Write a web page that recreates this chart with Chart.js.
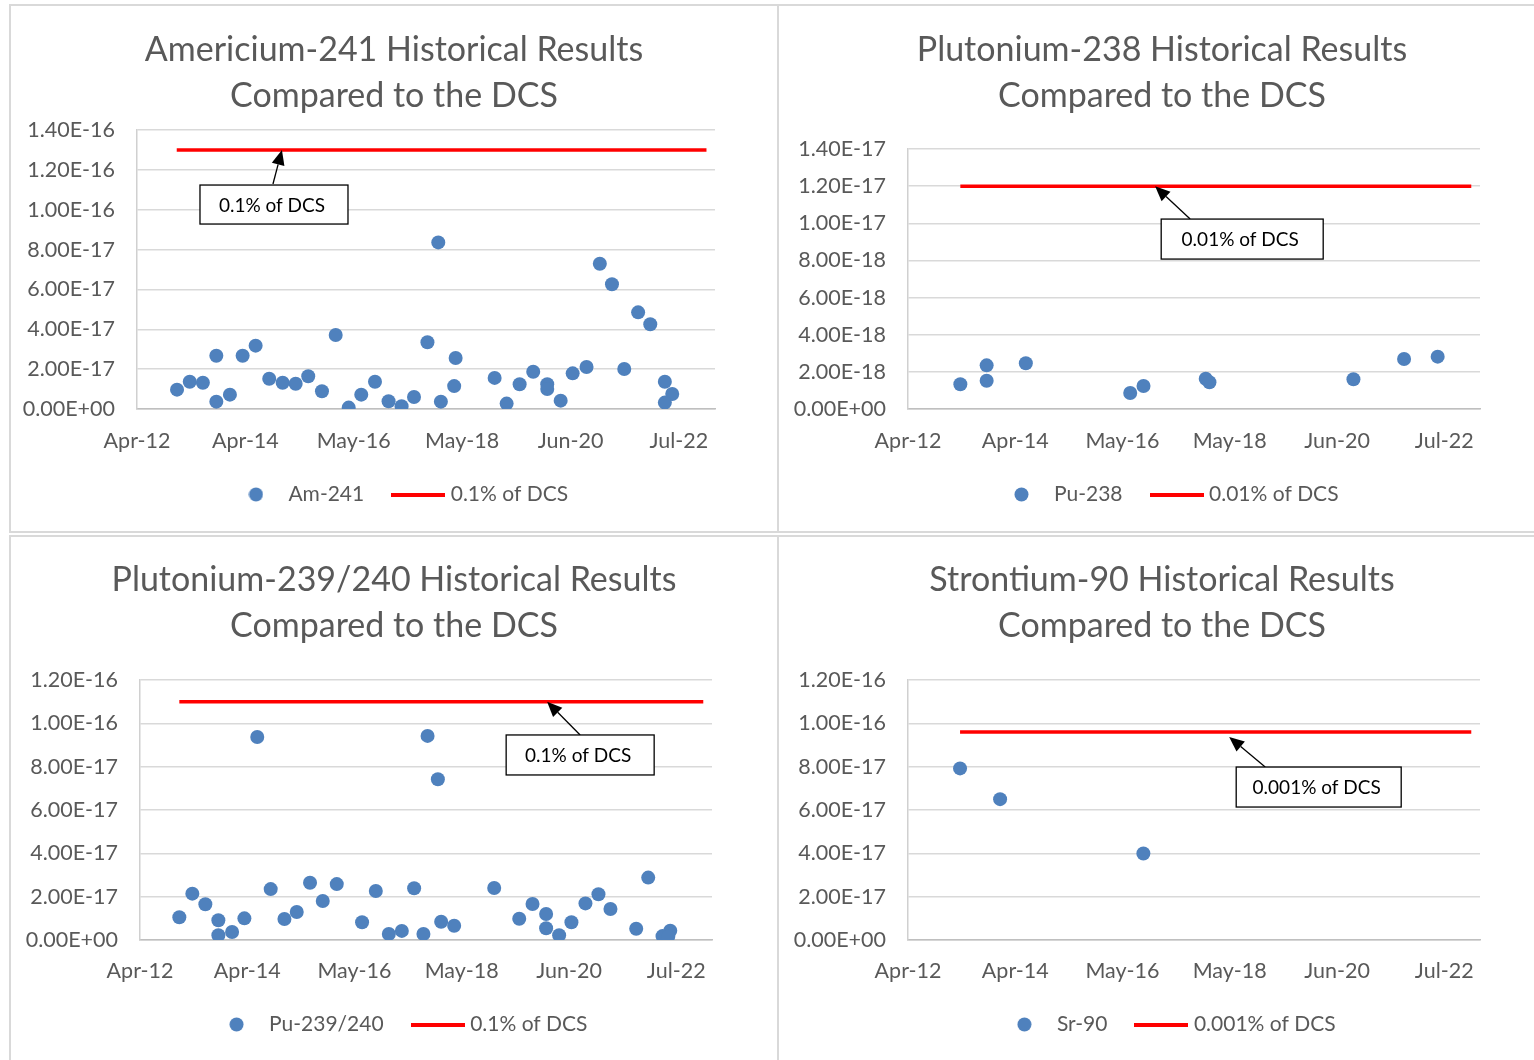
<!DOCTYPE html>
<html lang="en">
<head>
<meta charset="utf-8">
<title>Historical Results Compared to the DCS</title>
<script src="https://cdn.jsdelivr.net/npm/chart.js@4.4.0/dist/chart.umd.min.js"></script>
<style>
  body { margin: 0; background: #fff; }
  .frame { position: absolute; box-sizing: border-box; border: 2px solid #d9d9d9; }
  canvas { position: absolute; }
</style>
</head>
<body>
<div class="frame" style="left:9px;top:4px;width:770px;height:529px"></div>
<div class="frame" style="left:777px;top:4px;width:760px;height:529px"></div>
<div class="frame" style="left:9px;top:535px;width:770px;height:530px"></div>
<div class="frame" style="left:777px;top:535px;width:760px;height:530px"></div>

<canvas id="am241" width="768" height="527" style="left:10px;top:6px"></canvas>
<canvas id="pu238" width="756" height="527" style="left:778px;top:6px"></canvas>
<canvas id="pu239" width="768" height="525" style="left:10px;top:535px"></canvas>
<canvas id="sr90" width="756" height="525" style="left:778px;top:535px"></canvas>

<script>
  // x axis tick positions (Excel serial days) -> Apr-12 ... Jul-22
  const xTicks = [41000, 41750, 42500, 43250, 44000, 44750];

  // Am-241
  const amDates = ['2013-01-03', '2013-04-01', '2013-07-01', '2013-10-02', '2013-10-02', '2014-01-04',
    '2014-04-02', '2014-07-01', '2014-10-03', '2015-01-04', '2015-04-04', '2015-06-30', '2015-10-03',
    '2016-01-06', '2016-04-05', '2016-07-01', '2016-10-04', '2017-01-06', '2017-04-06', '2017-07-01',
    '2017-10-02', '2017-12-16', '2018-01-03', '2018-04-15', '2018-04-05', '2019-01-10', '2019-04-03',
    '2019-07-02', '2019-10-04', '2020-01-09', '2020-01-09', '2020-04-11', '2020-07-03', '2020-10-07',
    '2021-01-07', '2021-04-01', '2021-06-25', '2021-09-29', '2021-12-22', '2022-04-02', '2022-05-23',
    '2022-04-02'];
  const amValues = [9.7e-18, 1.37e-17, 1.32e-17, 2.67e-17, 3.7e-18, 7.2e-18,
    2.67e-17, 3.18e-17, 1.52e-17, 1.32e-17, 1.27e-17, 1.64e-17, 8.9e-18,
    3.71e-17, 7e-19, 7.2e-18, 1.37e-17, 3.9e-18, 1.4e-18, 6.0e-18,
    3.35e-17, 8.36e-17, 3.7e-18, 2.56e-17, 1.15e-17, 1.56e-17, 2.7e-18,
    1.24e-17, 1.87e-17, 1.24e-17, 1.0e-17, 4.2e-18, 1.79e-17, 2.11e-17,
    7.29e-17, 6.26e-17, 2.01e-17, 4.85e-17, 4.25e-17, 1.37e-17, 7.5e-18,
    3.2e-18];
  const amLimit = 1.3e-16;
  const amLimitSpan = ['2013-01-01', '2023-01-15'];

  // Pu-238
  const pu238Dates = ['2013-04-02', '2013-10-03', '2013-10-03', '2014-07-04', '2016-07-03', '2016-10-04',
    '2017-12-13', '2018-01-08', '2020-10-11', '2021-09-30', '2022-05-23'];
  const pu238Values = [1.33e-18, 2.35e-18, 1.52e-18, 2.46e-18, 8.6e-19, 1.24e-18,
    1.63e-18, 1.44e-18, 1.60e-18, 2.69e-18, 2.82e-18];
  const pu238Limit = 1.2e-17;
  const pu238LimitSpan = ['2013-04-02', '2023-01-13'];

  // Pu-239/240
  const pu239Dates = ['2013-01-01', '2013-04-02', '2013-07-02', '2013-10-01', '2013-10-01', '2014-01-05',
    '2014-04-01', '2014-06-30', '2014-10-02', '2015-01-06', '2015-04-02', '2015-07-04', '2015-10-01',
    '2016-01-07', '2016-07-02', '2016-10-06', '2017-01-05', '2017-04-06', '2017-07-01', '2017-09-04',
    '2017-10-03', '2017-12-14', '2018-01-06', '2018-04-07', '2019-01-12', '2019-07-06', '2019-10-07',
    '2020-01-10', '2020-01-10', '2020-04-10', '2020-07-05', '2020-10-11', '2021-01-10', '2021-04-04',
    '2021-10-01', '2021-12-24', '2022-04-03', '2022-05-27', '2022-05-13'];
  const pu239Values = [1.05e-17, 2.14e-17, 1.65e-17, 9.1e-18, 2.2e-18, 3.7e-18,
    1.0e-17, 9.37e-17, 2.35e-17, 9.7e-18, 1.29e-17, 2.64e-17, 1.80e-17,
    2.58e-17, 8.2e-18, 2.26e-17, 2.8e-18, 4.2e-18, 2.39e-17, 2.8e-18,
    9.42e-17, 7.42e-17, 8.4e-18, 6.6e-18, 2.40e-17, 9.8e-18, 1.66e-17,
    1.20e-17, 5.4e-18, 2.2e-18, 8.2e-18, 1.69e-17, 2.11e-17, 1.43e-17,
    5.2e-18, 2.88e-17, 1.8e-18, 4.3e-18, 1.6e-18];
  const pu239Limit = 1.1e-16;
  const pu239LimitSpan = ['2013-01-01', '2023-01-13'];

  // Sr-90
  const srDates = ['2013-03-31', '2014-01-05', '2016-10-03'];
  const srValues = [7.92e-17, 6.50e-17, 3.99e-17];
  const srLimit = 9.6e-17;
  const srLimitSpan = ['2013-03-31', '2023-01-13'];

  // callouts: tip of arrow, start of arrow, centre of text box (date, value)
  const amCallout = { text: '0.1% of DCS', tip: ['2014-12-30', 1.3e-16], tail: ['2014-10-29', 1.129e-16], box: ['2014-11-05', 1.026e-16] };
  const pu238Callout = { text: '0.01% of DCS', tip: ['2016-12-24', 1.2e-17], tail: ['2017-08-26', 1.023e-17], box: ['2018-08-25', 9.15e-18] };
  const pu239Callout = { text: '0.1% of DCS', tip: ['2020-01-17', 1.1e-16], tail: ['2020-09-04', 9.46e-17], box: ['2020-09-04', 8.54e-17] };
  const srCallout = { text: '0.001% of DCS', tip: ['2018-05-26', 9.37e-17], tail: ['2019-02-02', 7.98e-17], box: ['2020-02-11', 7.06e-17] };

  const BLUE = '#4f81bd';
  const RED = '#ff0000';
  const TEXT = '#595959';
  const GRID = '#d9d9d9';
  const FONT = 'Lato, "Open Sans", sans-serif';
  const MONTHS = ['Jan', 'Feb', 'Mar', 'Apr', 'May', 'Jun', 'Jul', 'Aug', 'Sep', 'Oct', 'Nov', 'Dec'];
  const EPOCH = Date.UTC(1899, 11, 30);

  function serial(s) {
    const [y, m, d] = s.split('-').map(Number);
    return (Date.UTC(y, m - 1, d) - EPOCH) / 864e5;
  }
  function monthLabel(v) {
    const d = new Date(EPOCH + v * 864e5);
    return MONTHS[d.getUTCMonth()] + '-' + String(d.getUTCFullYear()).slice(2);
  }
  // Excel style 0.00E+00
  function sci(v) {
    const [m, e] = Number(v).toExponential(2).split('e');
    return m + 'E' + e[0] + e.slice(1).padStart(2, '0');
  }

  function marker(kind) {
    const c = document.createElement('canvas');
    const g = c.getContext('2d');
    if (kind === 'dot') {
      c.width = 15; c.height = 15;
      g.fillStyle = BLUE;
      g.beginPath(); g.arc(7.5, 7.5, 7, 0, Math.PI * 2); g.fill();
    } else {
      c.width = 54; c.height = 4;
      g.fillStyle = RED;
      g.fillRect(0, 0, 54, 4);
    }
    return c;
  }
  const dotImg = marker('dot');
  const lineImg = marker('line');

  const calloutPlugin = {
    id: 'callout',
    afterLayout(chart, args, opts) {
      // nudge the legend row sideways, Excel centres it a little to the right
      chart.legend.left += opts.legendShift;
      chart.legend.right += opts.legendShift;
    },
    afterDatasetsDraw(chart, args, opts) {
      const c = opts.data;
      if (!c) return;
      const { ctx, scales: { x, y } } = chart;
      const px = p => [x.getPixelForValue(serial(p[0])), y.getPixelForValue(p[1])];
      const [tx, ty] = px(c.tip);
      const [sx, sy] = px(c.tail);
      const [bx, by] = px(c.box);
      const w = opts.width, h = opts.height;
      ctx.save();
      ctx.strokeStyle = '#000';
      ctx.fillStyle = '#000';
      ctx.lineWidth = 1.3;
      const a = Math.atan2(ty - sy, tx - sx);
      const head = 15, half = 6.5;
      const hx = tx - head * Math.cos(a), hy = ty - head * Math.sin(a);
      ctx.beginPath(); ctx.moveTo(sx, sy); ctx.lineTo(hx, hy); ctx.stroke();
      ctx.beginPath();
      ctx.moveTo(tx, ty);
      ctx.lineTo(hx + half * Math.sin(a), hy - half * Math.cos(a));
      ctx.lineTo(hx - half * Math.sin(a), hy + half * Math.cos(a));
      ctx.closePath(); ctx.fill();
      ctx.fillStyle = '#fff';
      ctx.fillRect(bx - w / 2, by - h / 2, w, h);
      ctx.strokeRect(bx - w / 2, by - h / 2, w, h);
      ctx.fillStyle = '#000';
      ctx.font = '19px ' + FONT;
      ctx.textAlign = 'center';
      ctx.textBaseline = 'middle';
      ctx.fillText(c.text, bx - 2, by + 1);
      ctx.restore();
    }
  };

  function makeChart(id, p, L) {
    const points = p.dates.map((d, i) => ({ x: serial(d), y: p.values[i] }));
    const limit = p.span.map(d => ({ x: serial(d), y: p.limit }));
    const yTicks = [];
    for (let k = 0; k * p.yStep <= p.yMax * 1.0001; k++) yTicks.push(k * p.yStep);
    return new Chart(document.getElementById(id), {
      type: 'scatter',
      data: {
        datasets: [
          { label: p.name, data: points, backgroundColor: BLUE, borderColor: BLUE, borderWidth: 0,
            pointRadius: 7, pointHoverRadius: 7, order: 2 },
          { type: 'line', label: p.limitLabel, data: limit, borderColor: RED, borderWidth: 3.5,
            pointRadius: 0, fill: false, order: 1 }
        ]
      },
      options: {
        responsive: false,
        animation: false,
        events: [],
        layout: { padding: { left: L.padLeft, right: 0, top: 0, bottom: L.padBottom } },
        scales: {
          x: {
            type: 'linear', min: 41000, max: 45000,
            afterBuildTicks: s => { s.ticks = xTicks.map(v => ({ value: v })); },
            afterFit: s => { s.height = L.xHeight; },
            grid: { display: false, drawTicks: false },
            border: { display: true, color: '#bfbfbf', width: 1.5 },
            ticks: { color: TEXT, font: { family: FONT, size: 21.5, lineHeight: 1 }, padding: L.xPad,
              maxRotation: 0, autoSkip: false, callback: v => monthLabel(v) }
          },
          y: {
            type: 'linear', min: 0, max: p.yMax,
            afterBuildTicks: s => { s.ticks = yTicks.map(v => ({ value: v })); },
            afterFit: s => { s.width = L.yWidth; },
            grid: { color: GRID, lineWidth: 1.5, drawTicks: false },
            border: { display: true, color: '#d0d0d0', width: 1.5 },
            ticks: { color: TEXT, font: { family: FONT, size: 21.5 }, padding: 22, callback: v => sci(v) }
          },
          gap: {
            type: 'linear', position: 'right', display: true,
            grid: { display: false, drawTicks: false },
            border: { display: false },
            ticks: { display: false },
            afterFit: s => { s.width = L.right; }
          }
        },
        plugins: {
          title: {
            display: true, text: p.title, color: TEXT,
            font: { family: FONT, size: 34, weight: 'normal', lineHeight: 46 / 34 },
            padding: { top: L.titleTop, bottom: L.titleBottom }
          },
          legend: {
            position: 'bottom',
            labels: {
              usePointStyle: true, pointStyleWidth: 44, padding: 32, color: TEXT,
              font: { family: FONT, size: 21 },
              generateLabels: chart => chart.data.datasets.map((ds, i) => ({
                text: ds.label, datasetIndex: i, pointStyle: i === 0 ? dotImg : lineImg,
                fillStyle: ds.borderColor, strokeStyle: ds.borderColor, lineWidth: 0, hidden: false,
                fontColor: TEXT
              }))
            }
          },
          tooltip: { enabled: false },
          callout: { data: p.callout, width: L.boxW, height: L.boxH, legendShift: 7 }
        }
      },
      plugins: [calloutPlugin]
    });
  }

  makeChart('am241', {
    title: ['Americium-241 Historical Results', 'Compared to the DCS'],
    name: 'Am-241', dates: amDates, values: amValues,
    limit: amLimit, span: amLimitSpan, limitLabel: '0.1% of DCS',
    yMax: 1.4e-16, yStep: 2e-17, callout: amCallout
  }, { padLeft: 0, yWidth: 127, right: 63, titleTop: 21, titleBottom: 11, xHeight: 43, xPad: 21, padBottom: 18, boxW: 148, boxH: 39 });

  makeChart('pu238', {
    title: ['Plutonium-238 Historical Results', 'Compared to the DCS'],
    name: 'Pu-238', dates: pu238Dates, values: pu238Values,
    limit: pu238Limit, span: pu238LimitSpan, limitLabel: '0.01% of DCS',
    yMax: 1.4e-17, yStep: 2e-18, callout: pu238Callout
  }, { padLeft: 12, yWidth: 118, right: 54, titleTop: 21, titleBottom: 30, xHeight: 43, xPad: 21, padBottom: 18, boxW: 162, boxH: 40 });

  makeChart('pu239', {
    title: ['Plutonium-239/240 Historical Results', 'Compared to the DCS'],
    name: 'Pu-239/240', dates: pu239Dates, values: pu239Values,
    limit: pu239Limit, span: pu239LimitSpan, limitLabel: '0.1% of DCS',
    yMax: 1.2e-16, yStep: 2e-17, callout: pu239Callout
  }, { padLeft: 0, yWidth: 130, right: 66, titleTop: 22, titleBottom: 31, xHeight: 42, xPad: 20, padBottom: 15, boxW: 148, boxH: 40 });

  makeChart('sr90', {
    title: ['Strontium-90 Historical Results', 'Compared to the DCS'],
    name: 'Sr-90', dates: srDates, values: srValues,
    limit: srLimit, span: srLimitSpan, limitLabel: '0.001% of DCS',
    yMax: 1.2e-16, yStep: 2e-17, callout: srCallout
  }, { padLeft: 12, yWidth: 118, right: 54, titleTop: 22, titleBottom: 31, xHeight: 42, xPad: 20, padBottom: 15, boxW: 165, boxH: 40 });
</script>
</body>
</html>
